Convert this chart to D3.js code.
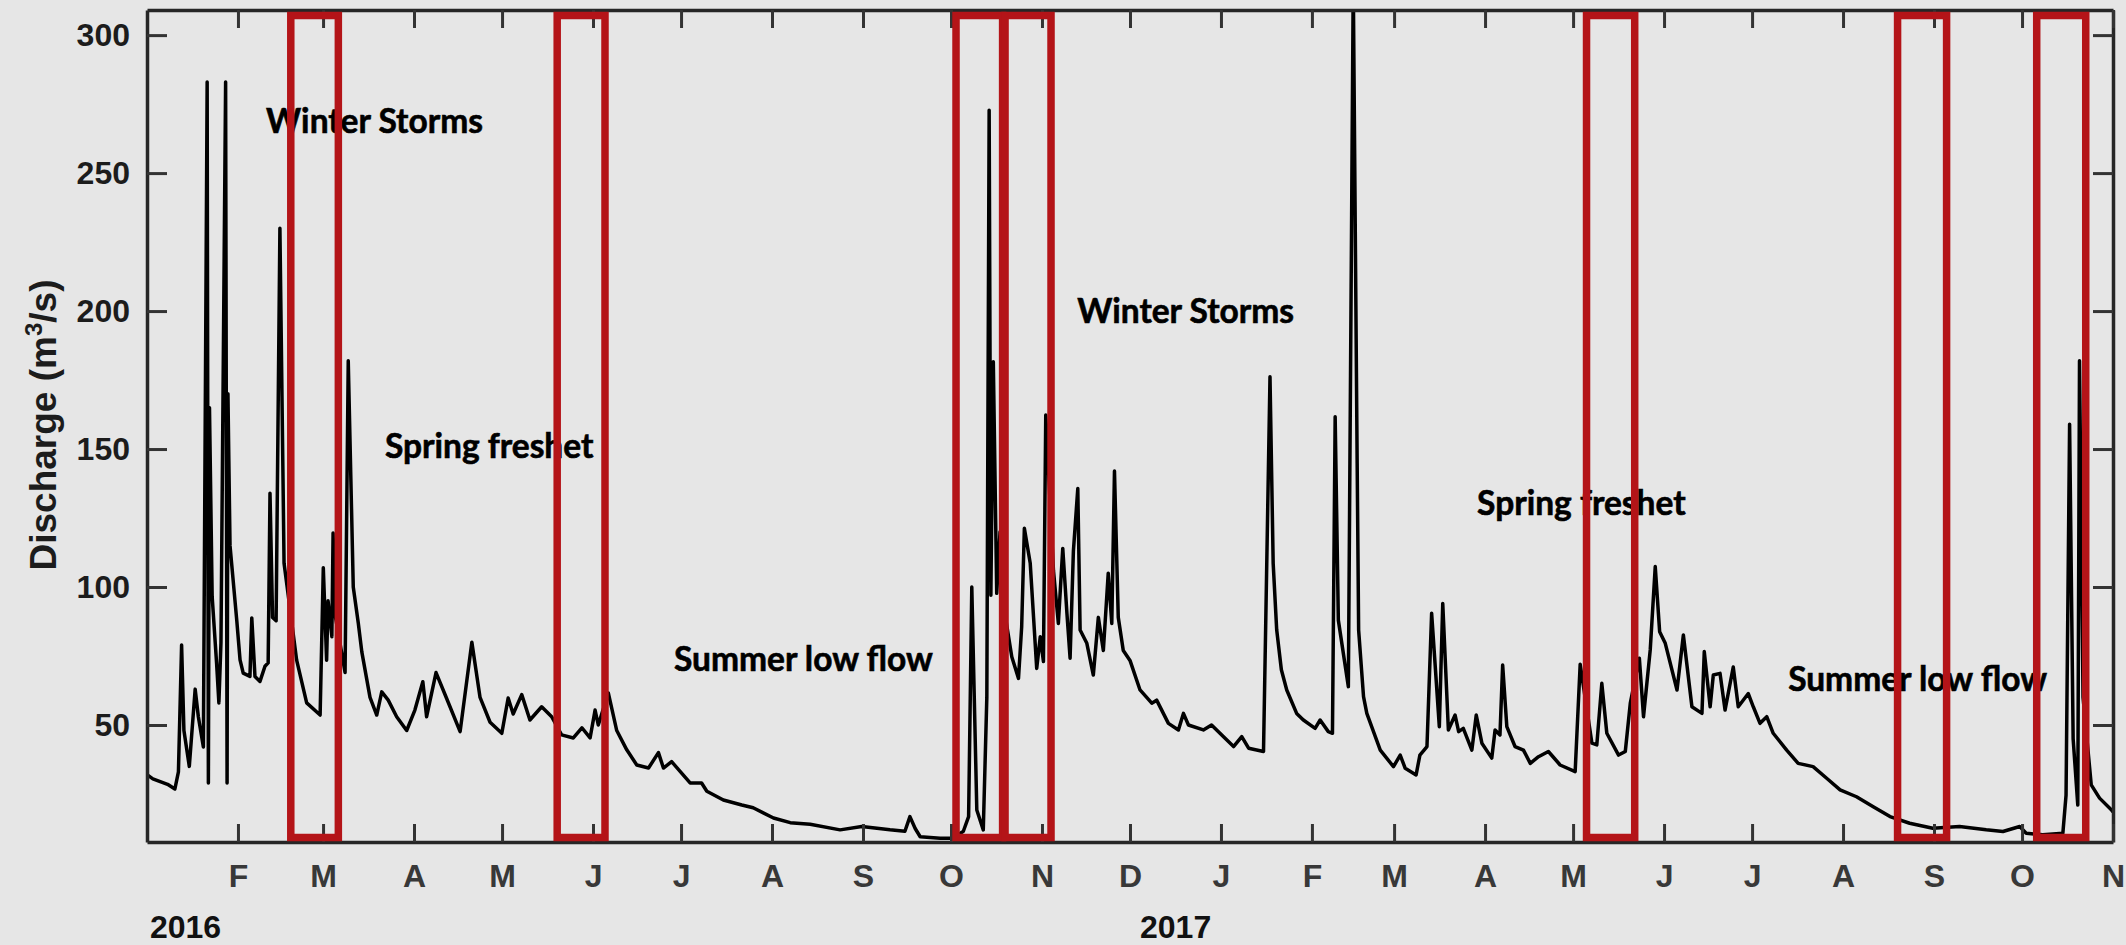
<!DOCTYPE html>
<html>
  <head>
    <meta charset="utf-8">
    <title>Discharge 2016-2017</title>
    <style>
      html, body { margin: 0; padding: 0; background: #e6e6e6; }
      svg { display: block; }
      .axis .domain { stroke: #262626; stroke-width: 3.5; }
      .axis .tick line { stroke: #333; stroke-width: 3; }
      .axis text { font-family: 'Liberation Sans', Arial, sans-serif; font-weight: bold; font-size: 32px; }
      .y-axis text { fill: #1c1c1c; }
      .x-axis text { fill: #383838; }
      .note { font-family: Lato, 'Open Sans', sans-serif; font-weight: bold; font-size: 33.5px; fill: #000;
              stroke: #000; stroke-width: 0.6; }
    </style>
  </head>
  <body>
    <div class='chart-container'></div>
    <script src="https://cdn.jsdelivr.net/npm/d3@7"></script>
    <script>
var dates = [
  '2016-01-01 00', '2016-01-03 00', '2016-01-05 12', '2016-01-08 00', '2016-01-10 12', '2016-01-11 17',
  '2016-01-12 19', '2016-01-13 14', '2016-01-15 10', '2016-01-17 10', '2016-01-18 12', '2016-01-20 05',
  '2016-01-21 12', '2016-01-21 22', '2016-01-22 07', '2016-01-23 05', '2016-01-24 17', '2016-01-25 12',
  '2016-01-26 05', '2016-01-27 19', '2016-01-28 07', '2016-01-28 14', '2016-01-29 07', '2016-01-31 14',
  '2016-02-01 17', '2016-02-02 19', '2016-02-05 02', '2016-02-05 17', '2016-02-06 19', '2016-02-08 12',
  '2016-02-10 05', '2016-02-11 07', '2016-02-11 22', '2016-02-12 19', '2016-02-14 00', '2016-02-15 07',
  '2016-02-16 17', '2016-02-21 00', '2016-02-24 10', '2016-02-29 00', '2016-03-01 02', '2016-03-02 05',
  '2016-03-02 17', '2016-03-04 00', '2016-03-04 10', '2016-03-05 02', '2016-03-08 12', '2016-03-09 14',
  '2016-03-11 07', '2016-03-13 00', '2016-03-14 05', '2016-03-17 00', '2016-03-19 07', '2016-03-21 00',
  '2016-03-23 05', '2016-03-26 02', '2016-03-29 12', '2016-04-01 07', '2016-04-04 00', '2016-04-05 07',
  '2016-04-08 12', '2016-04-12 02', '2016-04-16 17', '2016-04-20 17', '2016-04-23 12', '2016-04-26 22',
  '2016-04-30 22', '2016-05-03 02', '2016-05-04 19', '2016-05-07 17', '2016-05-10 12', '2016-05-14 12',
  '2016-05-17 22', '2016-05-21 07', '2016-05-25 07', '2016-05-28 05', '2016-05-31 00', '2016-06-01 17',
  '2016-06-02 19', '2016-06-06 05', '2016-06-09 02', '2016-06-12 12', '2016-06-15 22', '2016-06-19 22',
  '2016-06-23 07', '2016-06-25 00', '2016-06-27 19', '2016-07-04 02', '2016-07-08 00', '2016-07-09 19',
  '2016-07-15 10', '2016-07-21 17', '2016-07-25 14', '2016-08-01 12', '2016-08-07 05', '2016-08-14 00',
  '2016-08-24 05', '2016-08-31 14', '2016-09-10 05', '2016-09-15 07', '2016-09-17 00', '2016-09-18 19',
  '2016-09-20 12', '2016-09-27 07', '2016-10-01 19', '2016-10-05 05', '2016-10-07 00', '2016-10-08 02',
  '2016-10-09 19', '2016-10-12 00', '2016-10-13 05', '2016-10-14 00', '2016-10-14 14', '2016-10-15 10',
  '2016-10-16 14', '2016-10-17 17', '2016-10-19 10', '2016-10-21 17', '2016-10-24 00', '2016-10-25 02',
  '2016-10-26 00', '2016-10-28 00', '2016-10-30 05', '2016-10-31 10', '2016-11-01 12', '2016-11-02 07',
  '2016-11-04 22', '2016-11-06 14', '2016-11-08 02', '2016-11-09 12', '2016-11-10 14', '2016-11-11 17',
  '2016-11-13 05', '2016-11-14 00', '2016-11-16 07', '2016-11-18 12', '2016-11-20 05', '2016-11-21 22',
  '2016-11-23 14', '2016-11-24 19', '2016-11-25 17', '2016-11-27 00', '2016-11-28 17', '2016-12-01 00',
  '2016-12-04 10', '2016-12-08 10', '2016-12-10 02', '2016-12-14 02', '2016-12-17 12', '2016-12-19 05',
  '2016-12-20 22', '2016-12-26 00', '2016-12-28 19', '2017-01-01 19', '2017-01-05 07', '2017-01-08 02',
  '2017-01-10 10', '2017-01-15 12', '2017-01-17 17', '2017-01-18 19', '2017-01-20 00', '2017-01-21 14',
  '2017-01-23 10', '2017-01-26 19', '2017-01-29 02', '2017-02-02 02', '2017-02-03 19', '2017-02-06 14',
  '2017-02-08 00', '2017-02-08 22', '2017-02-10 00', '2017-02-13 10', '2017-02-15 02', '2017-02-16 10',
  '2017-02-16 22', '2017-02-18 14', '2017-02-19 17', '2017-02-24 07', '2017-02-28 19', '2017-03-03 02',
  '2017-03-04 19', '2017-03-08 12', '2017-03-09 19', '2017-03-12 05', '2017-03-13 19', '2017-03-16 10',
  '2017-03-17 14', '2017-03-19 12', '2017-03-21 19', '2017-03-23 00', '2017-03-24 14', '2017-03-27 12',
  '2017-03-29 00', '2017-03-30 22', '2017-04-03 07', '2017-04-04 10', '2017-04-06 02', '2017-04-07 00',
  '2017-04-08 10', '2017-04-11 05', '2017-04-14 02', '2017-04-16 10', '2017-04-19 05', '2017-04-22 14',
  '2017-04-26 14', '2017-05-01 17', '2017-05-03 10', '2017-05-07 10', '2017-05-09 02', '2017-05-10 19',
  '2017-05-12 12', '2017-05-16 12', '2017-05-18 19', '2017-05-20 12', '2017-05-23 14', '2017-05-25 00',
  '2017-05-27 07', '2017-05-29 00', '2017-05-30 12', '2017-06-01 10', '2017-06-05 10', '2017-06-07 14',
  '2017-06-10 12', '2017-06-13 22', '2017-06-14 17', '2017-06-16 17', '2017-06-17 19', '2017-06-20 02',
  '2017-06-21 19', '2017-06-24 14', '2017-06-26 07', '2017-06-29 17', '2017-07-01 10', '2017-07-03 17',
  '2017-07-06 00', '2017-07-08 05', '2017-07-12 19', '2017-07-16 17', '2017-07-21 19', '2017-07-26 10',
  '2017-07-31 00', '2017-08-05 14', '2017-08-11 07', '2017-08-17 00', '2017-08-23 17', '2017-08-31 14',
  '2017-09-09 17', '2017-09-18 19', '2017-09-24 12', '2017-09-30 05', '2017-10-02 10', '2017-10-08 02',
  '2017-10-14 22', '2017-10-16 00', '2017-10-17 05', '2017-10-18 10', '2017-10-20 00', '2017-10-20 14',
  '2017-10-21 19', '2017-10-24 14', '2017-10-27 10', '2017-10-31 10', '2017-11-01 00'
];
var discharge = [
  32, 30.5, 29.5, 28.5, 26.8, 33,
  79, 48, 35, 63, 53, 42,
  283, 29, 165, 96.5, 72.5, 58,
  80, 283, 29, 170, 115, 88,
  73.6, 68.8, 67.6, 88.8, 67.6, 65.8,
  71.3, 72.5, 134, 89, 87.8, 230,
  108.6, 73.5, 58, 53.6, 107, 73.5,
  95, 82, 119.6, 90, 69, 182,
  100, 87, 76.5, 60, 53.6, 62,
  59, 53, 48, 55.4, 65.7, 53,
  69, 59.7, 47.6, 80, 60, 51,
  47, 59.8, 54, 61, 51.8, 56.6,
  53, 46.4, 45.3, 49, 45.3, 55.4,
  50, 61.6, 48, 41, 35.5, 34.4,
  40, 34.4, 36.7, 29, 29, 26,
  22.8, 21, 20, 16.3, 14.6, 14,
  12, 13.2, 12, 11.5, 16.8, 12.5,
  9.5, 9, 9, 11.5, 16.8, 100,
  19.2, 12, 60, 272.8, 97, 181.6,
  97.7, 120, 90, 74.7, 66.9, 85.6,
  121.3, 108.6, 70.5, 82, 73, 162.3,
  106, 86.8, 114, 90.5, 74.2, 113,
  135.7, 84.4, 79.6, 68.1, 89, 77,
  105, 86.8, 142, 89, 77, 73.4,
  62.7, 57.9, 59, 50.6, 48.2, 54.2,
  50, 48.2, 50, 45.8, 42.2, 45.8,
  41.6, 40.4, 176.2, 108.6, 84.4, 70,
  62.7, 54.2, 51.8, 48.8, 51.8, 47.6,
  47, 161.7, 88, 63.9, 320, 144.8,
  84.4, 60.3, 54.2, 40.9, 34.9, 39.1,
  34.3, 31.9, 39.1, 42.2, 90.5, 49.4,
  94, 48.2, 53.6, 47.6, 48.8, 40.9,
  53.6, 43.4, 38, 48.2, 46.4, 71.7,
  49.4, 42.2, 40.9, 36.1, 38.5, 40.4,
  35.5, 33.1, 72, 43.4, 42.8, 65.1,
  47, 39.1, 40.4, 57.9, 74.2, 53,
  77.2, 107.4, 83.8, 79.6, 62.7, 82.6,
  56.6, 54.2, 76.6, 56.6, 68.1, 68.7,
  55.4, 71, 56.6, 61.4, 56.6, 50.6,
  53, 47, 40.9, 36.1, 34.9, 30.7,
  26.5, 24, 20.4, 16.8, 14.4, 12.6,
  13.2, 12, 11.4, 13.2, 10.8, 10.2,
  10.8, 24.6, 159, 45, 21, 182,
  60, 28.3, 23.5, 19.3, 18.5
];

var yTicks = [50, 100, 150, 200, 250, 300];
var monthLabels = ['F', 'M', 'A', 'M', 'J', 'J', 'A', 'S', 'O', 'N', 'D',
                   'J', 'F', 'M', 'A', 'M', 'J', 'J', 'A', 'S', 'O', 'N'];
var yearLabels = ['2016', '2017'];
var yearDates = ['2016-01-02 00', '2016-12-04 10'];

// annotation text, anchored at (date, discharge) of its baseline start
var noteText = ['Winter Storms', 'Spring freshet', 'Summer low flow',
                'Winter Storms', 'Spring freshet', 'Summer low flow'];
var noteDates = ['2016-02-10 14', '2016-03-22 02', '2016-06-28 14',
                 '2016-11-13 00', '2017-03-29 07', '2017-07-13 07'];
var noteValues = [264.5, 146.7, 69.7, 195.7, 126.1, 62.5];

// highlighted periods
var boxStart = ['2016-02-19 00', '2016-05-19 19', '2016-10-02 17', '2016-10-19 10',
                '2017-05-05 14', '2017-08-19 14', '2017-10-06 00'];
var boxEnd = ['2016-03-06 05', '2016-06-05 02', '2016-10-18 14', '2016-11-04 02',
              '2017-05-22 00', '2017-09-05 07', '2017-10-22 17'];

var parse = d3.timeParse('%Y-%m-%d %H');

var margin = {top: 10, right: 13, bottom: 103, left: 147};
var width = 2126 - margin.left - margin.right;
var height = 945 - margin.top - margin.bottom;

var data = dates.map(function(d, i) { return {date: parse(d), value: discharge[i]}; });

var x = d3.scaleTime()
    .domain([parse('2016-01-01 00'), parse('2017-11-01 00')])
    .range([0, width]);

var y = d3.scaleLinear()
    .domain([7.6, 309.1])
    .range([height, 0]);

var svg = d3.select('.chart-container').append('svg')
    .attr('width', 2126)
    .attr('height', 945);

svg.append('rect')
    .attr('width', 2126)
    .attr('height', 945)
    .attr('fill', '#e6e6e6');

var g = svg.append('g')
    .attr('transform', 'translate(' + margin.left + ',' + margin.top + ')');

g.append('clipPath')
    .attr('id', 'plot-clip')
  .append('rect')
    .attr('width', width)
    .attr('height', height);

// annotations
g.selectAll('.note')
    .data(noteText)
  .enter().append('text')
    .attr('class', 'note')
    .attr('x', function(d, i) { return x(parse(noteDates[i])); })
    .attr('y', function(d, i) { return y(noteValues[i]); })
    .text(function(d) { return d; });

// hydrograph
var line = d3.line()
    .x(function(d) { return x(d.date); })
    .y(function(d) { return y(d.value); });

g.append('path')
    .datum(data)
    .attr('clip-path', 'url(#plot-clip)')
    .attr('fill', 'none')
    .attr('stroke', '#000')
    .attr('stroke-width', 3.5)
    .attr('stroke-linejoin', 'round')
    .attr('d', line);

// axes
var monthTicks = d3.timeMonth.range(parse('2016-02-01 00'), parse('2017-11-02 00'));

g.append('g')
    .attr('class', 'axis y-axis')
    .call(d3.axisLeft(y).tickValues(yTicks).tickSize(-20).tickSizeOuter(0).tickPadding(17));

g.append('g')
    .attr('class', 'axis')
    .attr('transform', 'translate(' + width + ',0)')
    .call(d3.axisRight(y).tickValues(yTicks).tickSize(-20).tickSizeOuter(0).tickFormat(''));

g.append('g')
    .attr('class', 'axis x-axis')
    .attr('transform', 'translate(0,' + height + ')')
    .call(d3.axisBottom(x).tickValues(monthTicks).tickSize(-18).tickSizeOuter(0).tickPadding(22)
      .tickFormat(function(d, i) { return monthLabels[i]; }));

g.append('g')
    .attr('class', 'axis')
    .call(d3.axisTop(x).tickValues(monthTicks).tickSize(-18).tickSizeOuter(0).tickFormat(''));

// year labels under the month letters
g.selectAll('.year')
    .data(yearLabels)
  .enter().append('text')
    .attr('class', 'year')
    .attr('x', function(d, i) { return x(parse(yearDates[i])); })
    .attr('y', height + 96)
    .style('font-family', "'Liberation Sans', Arial, sans-serif")
    .style('font-weight', 'bold')
    .style('font-size', '32px')
    .style('fill', '#111')
    .text(function(d) { return d; });

// y axis title
var title = svg.append('text')
    .attr('transform', 'translate(56,425) rotate(-90)')
    .attr('text-anchor', 'middle')
    .style('font-family', "'Liberation Sans', Arial, sans-serif")
    .style('font-weight', 'bold')
    .style('font-size', '37px')
    .style('fill', '#1c1c1c');
title.append('tspan').text('Discharge (m');
title.append('tspan').attr('dy', -14).style('font-size', '24px').text('3');
title.append('tspan').attr('dy', 14).text('/s)');

// red boxes on top of everything
g.selectAll('.period')
    .data(boxStart)
  .enter().append('rect')
    .attr('class', 'period')
    .attr('x', function(d) { return x(parse(d)); })
    .attr('y', 5.5)
    .attr('width', function(d, i) { return x(parse(boxEnd[i])) - x(parse(d)); })
    .attr('height', height - 10)
    .attr('fill', 'none')
    .attr('stroke', '#b41418')
    .attr('stroke-width', 7.5);
    </script>
  </body>
</html>
